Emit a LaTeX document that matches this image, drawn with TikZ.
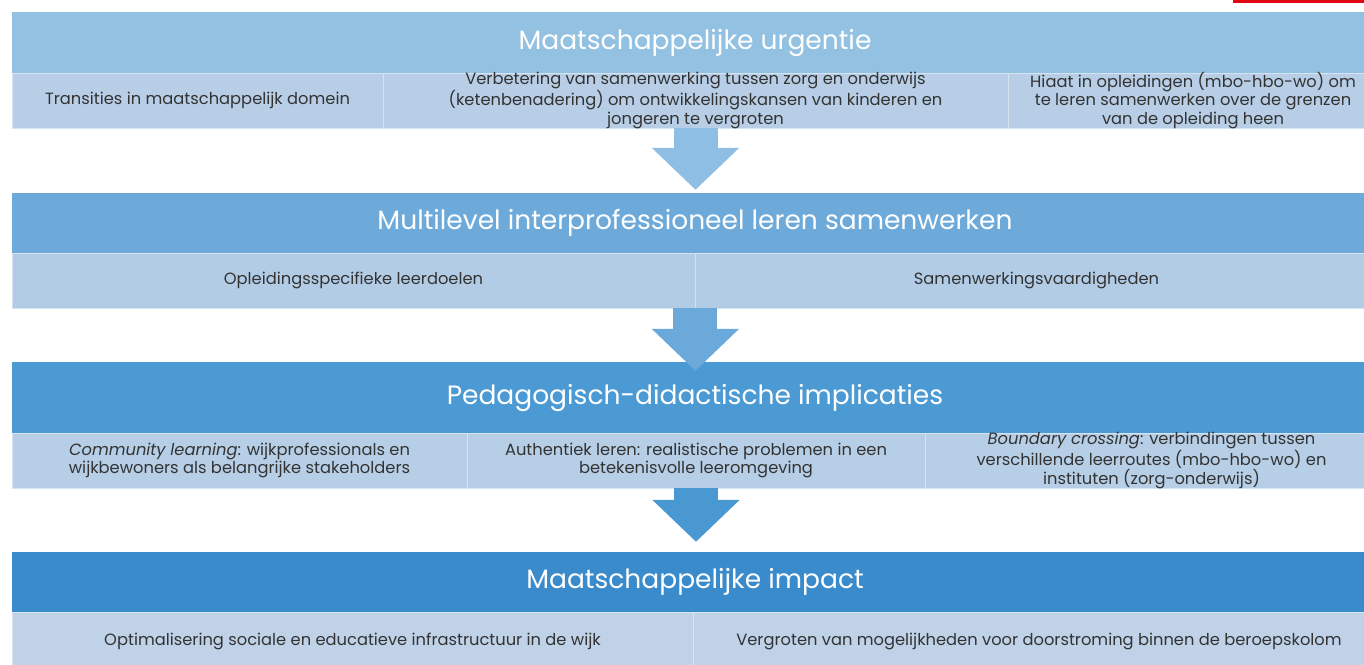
\documentclass[tikz,border=0pt]{standalone}
\usepackage{fontspec}
\setmainfont{Poppins}
\usetikzlibrary{arrows.meta,calc,positioning}

\definecolor{headA}{HTML}{93C1E2}
\definecolor{headB}{HTML}{6DAADA}
\definecolor{headC}{HTML}{4B9AD3}
\definecolor{headD}{HTML}{3A8BCC}
\definecolor{cellA}{HTML}{B7CEE6}
\definecolor{cellB}{HTML}{B3CCE5}
\definecolor{cellC}{HTML}{B6CEE6}
\definecolor{cellD}{HTML}{BFD2E8}
\definecolor{arrA}{HTML}{8EBEE3}
\definecolor{arrB}{HTML}{6AA9D9}
\definecolor{arrC}{HTML}{4A98D2}
\definecolor{txtgray}{HTML}{333333}
\definecolor{logored}{HTML}{E30613}

\tikzset{
  header/.style={fill=#1, text=white, inner sep=0pt, minimum width=1366pt,
    font=\fontsize{26.5}{30}\selectfont},
  cell/.style={fill=#1, draw=white!45!#1, line width=0.8pt, text=txtgray,
    inner xsep=0pt, inner ysep=-4pt, align=center, minimum height=55pt,
    font=\fontsize{16.3}{18.6}\selectfont},
  bigarrow/.style={draw=#1, line width=44pt,
    -{Triangle[width=85pt,length=42pt]}, fill=#1},
}

\begin{document}
\begin{tikzpicture}[x=1pt,y=-1pt]
\useasboundingbox (0,0) rectangle (1364,664);
\clip (0,0) rectangle (1364,664);
\fill[logored] (1233,0) rectangle (1364,3);

% band 1
\node[header=headA, minimum height=61pt] (h1) at (695,42.5) {Maatschappelijke urgentie};
\node[cell=cellA, minimum width=371pt] (s11) at (197.5,100.5) {Transities in maatschappelijk domein};
\node[cell=cellA, minimum width=625pt] (s12) at (695.5,100.5) {Verbetering van samenwerking tussen zorg en onderwijs\\(ketenbenadering) om ontwikkelingskansen van kinderen en\\jongeren te vergroten};
\node[cell=cellA, minimum width=370pt] (s13) at (1193,100.5) {Hiaat in opleidingen (mbo-hbo-wo) om\\te leren samenwerken over de grenzen\\van de opleiding heen};

% band 2
\node[header=headB, minimum height=60pt] (h2) at (695,223) {Multilevel interprofessioneel leren samenwerken};
\node[cell=cellB, minimum width=683pt] (s21) at (353.5,280.5) {Opleidingsspecifieke leerdoelen};
\node[cell=cellB, minimum width=683pt] (s22) at (1036.5,280.5) {Samenwerkingsvaardigheden};

% band 3
\node[header=headC, minimum height=71pt] (h3) at (695,397.5) {Pedagogisch-didactische implicaties};
\node[cell=cellC, minimum width=455pt] (s31) at (239.5,460.5) {\emph{Community learning}: wijkprofessionals en\\wijkbewoners als belangrijke stakeholders};
\node[cell=cellC, minimum width=458pt] (s32) at (696,460.5) {Authentiek leren: realistische problemen in een\\betekenisvolle leeromgeving};
\node[cell=cellC, minimum width=453pt] (s33) at (1151.5,460.5) {\emph{Boundary crossing}: verbindingen tussen\\verschillende leerroutes (mbo-hbo-wo) en\\instituten (zorg-onderwijs)};

% band 4
\node[header=headD, minimum height=60pt] (h4) at (695,582) {Maatschappelijke impact};
\node[cell=cellD, minimum width=681pt, minimum height=58pt] (s41) at (352.5,641) {Optimalisering sociale en educatieve infrastructuur in de wijk};
\node[cell=cellD, minimum width=692pt, minimum height=58pt] (s42) at (1039,641) {Vergroten van mogelijkheden voor doorstroming binnen de beroepskolom};

% arrows between the bands
\draw[bigarrow=arrA] (s12.south) -- ($(s12.south |- h2.north)+(0,-3)$);
\draw[bigarrow=arrB] (s21.south east) -- ($(s21.south east |- h3.north)+(0,9)$);
\draw[bigarrow=arrC] (s32.south) -- ($(s32.south |- h4.north)+(0,-10)$);
\end{tikzpicture}
\end{document}
